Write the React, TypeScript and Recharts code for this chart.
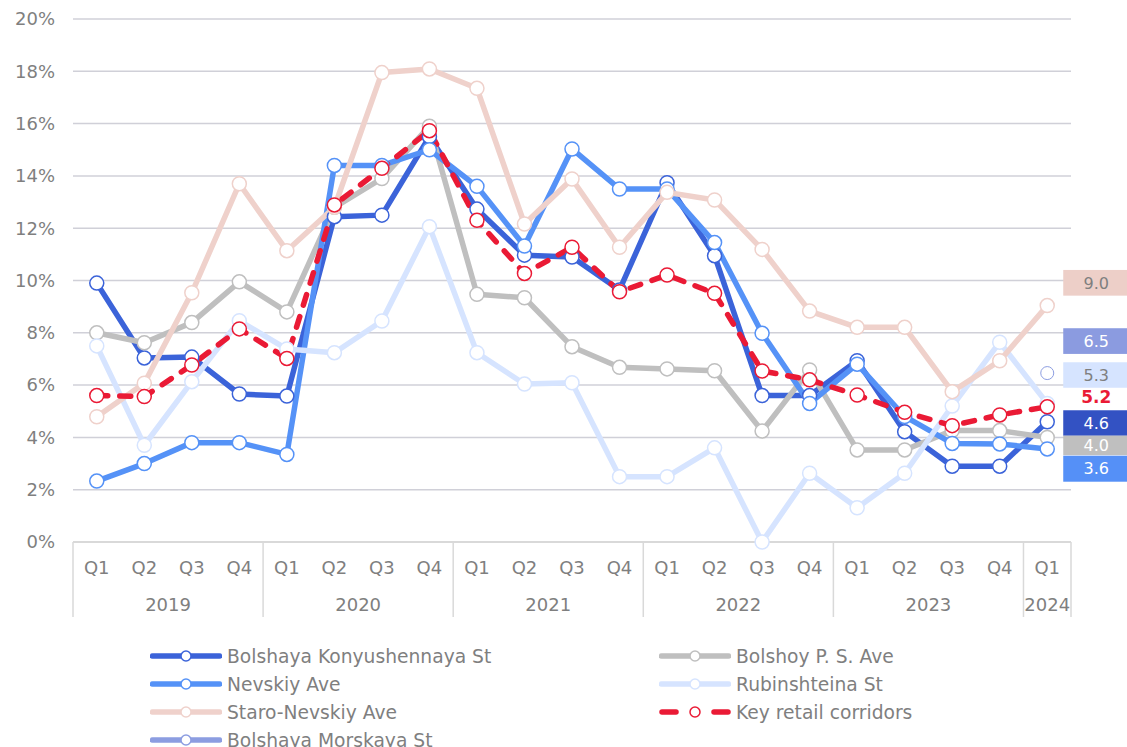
import { CartesianGrid, LabelList, Line, LineChart, XAxis, YAxis } from 'recharts'

const quarters = ['Q1', 'Q2', 'Q3', 'Q4', 'Q1', 'Q2', 'Q3', 'Q4', 'Q1', 'Q2', 'Q3', 'Q4', 'Q1', 'Q2', 'Q3', 'Q4', 'Q1', 'Q2', 'Q3', 'Q4', 'Q1']
const years = ['2019', '2019', '2019', '2019', '2020', '2020', '2020', '2020', '2021', '2021', '2021', '2021', '2022', '2022', '2022', '2022', '2023', '2023', '2023', '2023', '2024']

const bolshayaKonyushennaya = [9.9, 7.04, 7.07, 5.66, 5.58, 12.44, 12.5, 15.5, 12.73, 10.97, 10.9, 9.64, 13.74, 10.95, 5.6, 5.6, 6.93, 4.22, 2.9, 2.9, 4.6]
const bolshoyPS = [8.0, 7.62, 8.39, 9.95, 8.8, 12.8, 13.9, 15.9, 9.47, 9.34, 7.47, 6.68, 6.62, 6.55, 4.24, 6.58, 3.52, 3.52, 4.26, 4.26, 4.0]
const nevskiy = [2.33, 3.0, 3.8, 3.8, 3.35, 14.4, 14.4, 15.0, 13.6, 11.32, 15.03, 13.5, 13.5, 11.45, 7.98, 5.3, 6.8, 4.8, 3.77, 3.75, 3.56]
const rubinshteina = [7.5, 3.7, 6.13, 8.46, 7.38, 7.24, 8.45, 12.06, 7.24, 6.04, 6.09, 2.5, 2.5, 3.6, 0.0, 2.63, 1.31, 2.63, 5.2, 7.64, 5.3]
const staroNevskiy = [4.79, 6.07, 9.53, 13.7, 11.14, 12.8, 17.95, 18.09, 17.35, 12.16, 13.88, 11.27, 13.37, 13.08, 11.19, 8.83, 8.21, 8.21, 5.75, 6.93, 9.04]
const keyRetail = [5.6, 5.56, 6.77, 8.15, 7.02, 12.89, 14.29, 15.73, 12.3, 10.27, 11.27, 9.57, 10.21, 9.51, 6.54, 6.2, 5.62, 4.96, 4.45, 4.86, 5.17]
const bolshayaMorskaya = [null, null, null, null, null, null, null, null, null, null, null, null, null, null, null, null, null, null, null, null, 6.46]

const yTicks = [0, 2, 4, 6, 8, 10, 12, 14, 16, 18, 20]

const WIDTH = 1127
const HEIGHT = 747
const PLOT_LEFT = 73
const PLOT_RIGHT = 1071
const BAND = (PLOT_RIGHT - PLOT_LEFT) / quarters.length
const TEXT = '#7f7f7f'
const FONT = "'DejaVu Sans', Verdana, sans-serif"

type Series = {
  key: string
  name: string
  values: (number | null)[]
  color: string
  dashed?: boolean
  labelBg?: string
  labelColor: string
  labelDy: number
  labelH: number
  labelBold?: boolean
  dotR?: number
  dotStroke?: number
}

const series: Series[] = [
  { key: 'bk', name: 'Bolshaya Konyushennaya St', values: bolshayaKonyushennaya, color: '#3b63d9', labelBg: '#3352c3', labelColor: '#ffffff', labelDy: 1.3, labelH: 25.5 },
  { key: 'bps', name: 'Bolshoy P. S. Ave', values: bolshoyPS, color: '#bfbfbf', labelBg: '#bfbfbf', labelColor: '#ffffff', labelDy: 8, labelH: 19.5 },
  { key: 'nev', name: 'Nevskiy Ave', values: nevskiy, color: '#5592f7', labelBg: '#5590f7', labelColor: '#ffffff', labelDy: 19.8, labelH: 26 },
  { key: 'rub', name: 'Rubinshteina St', values: rubinshteina, color: '#d6e4ff', labelBg: '#d6e4ff', labelColor: TEXT, labelDy: -28.4, labelH: 25.5 },
  { key: 'staro', name: 'Staro-Nevskiy Ave', values: staroNevskiy, color: '#efd1cb', labelBg: '#edcfc8', labelColor: TEXT, labelDy: -22.8, labelH: 25.7 },
  { key: 'key', name: 'Key retail corridors', values: keyRetail, color: '#ea1a35', dashed: true, labelColor: '#ea1a35', labelDy: -10, labelH: 0, labelBold: true },
  { key: 'bm', name: 'Bolshaya Morskaya St', values: bolshayaMorskaya, color: '#8c9de1', labelBg: '#8b9be0', labelColor: '#ffffff', labelDy: -32, labelH: 25.7, dotR: 6.5, dotStroke: 1 },
]

const data = quarters.map((q, i) => {
  const row: Record<string, string | number | null> = { period: `${q} ${years[i]}` }
  series.forEach((s) => {
    row[s.key] = s.values[i]
  })
  return row
})

function QuarterTick(props: any) {
  const { x, y, index } = props
  const year = years[index]
  const first = index === 0 || years[index - 1] !== year
  const count = years.filter((v) => v === year).length
  const last = index === quarters.length - 1
  return (
    <g>
      <text x={x} y={y + 32} textAnchor="middle" fill={TEXT} fontSize={18}>
        {quarters[index]}
      </text>
      {first && (
        <>
          <line x1={x - BAND / 2} x2={x - BAND / 2} y1={y} y2={y + 75} stroke="#d9d9d9" strokeWidth={1.5} />
          <text x={x + ((count - 1) * BAND) / 2} y={y + 69} textAnchor="middle" fill={TEXT} fontSize={18}>
            {year}
          </text>
        </>
      )}
      {last && <line x1={x + BAND / 2} x2={x + BAND / 2} y1={y} y2={y + 75} stroke="#d9d9d9" strokeWidth={1.5} />}
    </g>
  )
}

function endLabel(s: Series) {
  return (props: any) => {
    const { x, y, value, index } = props
    if (index !== quarters.length - 1 || value == null) return null
    const cy = y + s.labelDy
    const left = x + 16
    return (
      <g>
        {s.labelBg && <rect x={left} y={cy - s.labelH / 2} width={64} height={s.labelH} fill={s.labelBg} />}
        <text
          x={left + 33}
          y={cy}
          dy="0.36em"
          textAnchor="middle"
          fill={s.labelColor}
          fontSize={s.labelBold ? 17 : 16}
          fontWeight={s.labelBold ? 'bold' : 'normal'}
        >
          {Number(value).toFixed(1)}
        </text>
      </g>
    )
  }
}

function LegendIcon({ s }: { s: Series }) {
  return (
    <svg width={72} height={14} style={{ display: 'block' }}>
      {s.dashed ? (
        <>
          <line x1={3} x2={17} y1={7} y2={7} stroke={s.color} strokeWidth={5.5} strokeLinecap="round" />
          <line x1={55} x2={69} y1={7} y2={7} stroke={s.color} strokeWidth={5.5} strokeLinecap="round" />
        </>
      ) : (
        <line x1={2.5} x2={69.5} y1={7} y2={7} stroke={s.color} strokeWidth={5.5} strokeLinecap="round" />
      )}
      <circle cx={36} cy={7} r={5} fill="#fff" stroke={s.color} strokeWidth={1.5} />
    </svg>
  )
}

function ChartLegend() {
  return (
    <>
      {series.map((s, i) => {
        const col = i % 2
        const row = Math.floor(i / 2)
        return (
          <div
            key={s.key}
            style={{
              position: 'absolute',
              left: col === 0 ? 150 : 659,
              top: 656 + row * 28 - 11,
              height: 22,
              display: 'flex',
              alignItems: 'center',
              gap: 5,
              color: TEXT,
              fontSize: 18.7,
              whiteSpace: 'nowrap',
            }}
          >
            <LegendIcon s={s} />
            <span>{s.name}</span>
          </div>
        )
      })}
    </>
  )
}

export default function App() {
  return (
    <div
      style={{
        position: 'absolute',
        left: 0,
        top: 0,
        width: WIDTH,
        height: HEIGHT,
        overflow: 'hidden',
        background: '#fff',
        fontFamily: FONT,
      }}
    >
      <LineChart width={WIDTH} height={HEIGHT} data={data} margin={{ top: 19, right: 56, left: 13, bottom: 125 }}>
        <CartesianGrid vertical={false} stroke="#d0d0d8" strokeWidth={1.5} />
        <XAxis
          dataKey="period"
          interval={0}
          height={80}
          tickSize={0}
          tickMargin={0}
          tickLine={false}
          axisLine={{ stroke: '#d9d9d9', strokeWidth: 2 }}
          padding={{ left: BAND / 2, right: BAND / 2 }}
          tick={<QuarterTick />}
        />
        <YAxis
          type="number"
          domain={[0, 20]}
          ticks={yTicks}
          width={60}
          axisLine={false}
          tickLine={false}
          tickMargin={12}
          tickFormatter={(v) => `${v}%`}
          tick={{ fill: TEXT, fontSize: 18 }}
        />
        {series.map((s) => (
          <Line
            key={s.key}
            dataKey={s.key}
            name={s.name}
            stroke={s.color}
            strokeWidth={5.5}
            strokeDasharray={s.dashed ? '11 12' : undefined}
            strokeLinecap={s.dashed ? 'round' : 'butt'}
            strokeLinejoin="round"
            dot={{ r: s.dotR ?? 7, fill: '#fff', stroke: s.color, strokeWidth: s.dotStroke ?? 1.5, strokeDasharray: 'none' }}
            activeDot={false}
            isAnimationActive={false}
            connectNulls={false}
          >
            <LabelList dataKey={s.key} content={endLabel(s)} />
          </Line>
        ))}
      </LineChart>
      <ChartLegend />
    </div>
  )
}
